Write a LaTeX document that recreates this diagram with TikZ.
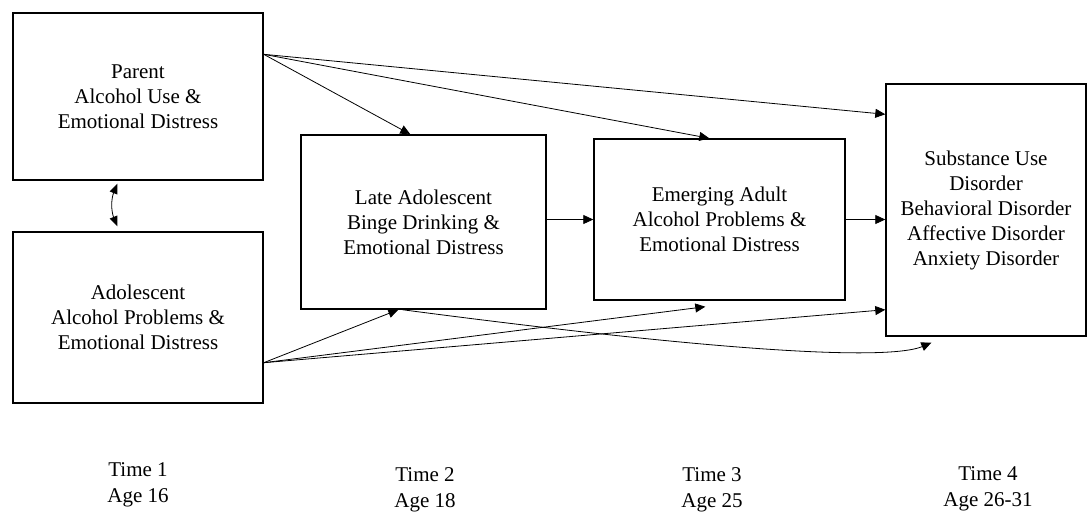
\documentclass[tikz,border=0pt]{standalone}
\usepackage{fontspec}
\setmainfont{Liberation Serif}
\usetikzlibrary{arrows.meta,calc}
\begin{document}
\begin{tikzpicture}[x=1pt,y=-1pt,
  box/.style={draw,line width=1.4pt,rectangle,inner sep=0pt,align=center,font=\fontsize{21}{25}\selectfont},
  arr/.style={line width=0.8pt,-{Triangle[length=10pt,width=9pt]}},
  darr/.style={line width=0.8pt,{Triangle[length=10pt,width=8pt]}-{Triangle[length=10pt,width=8pt]}},
  timelab/.style={align=center,font=\fontsize{21}{26}\selectfont}]
\useasboundingbox (0,0) rectangle (1087,517);
\node[box,minimum width=250pt,minimum height=167pt] (parent) at (138,96.5) {Parent\\Alcohol Use \&\\Emotional Distress};
\node[box,minimum width=250pt,minimum height=171pt] (adol) at (138,317.5) {Adolescent\\Alcohol Problems \&\\Emotional Distress};
\node[box,minimum width=245pt,minimum height=174pt] (late) at (423.5,222) {Late Adolescent\\Binge Drinking \&\\Emotional Distress};
\node[box,minimum width=251pt,minimum height=161pt] (em) at (719.5,219.5) {Emerging Adult\\Alcohol Problems \&\\Emotional Distress};
\node[box,minimum width=200pt,minimum height=252pt] (out) at (986,210) {Substance Use\\Disorder\\Behavioral Disorder\\Affective Disorder\\Anxiety Disorder};

\coordinate (ps) at ($(parent.north east)+(0,42)$);
\coordinate (as) at ($(adol.south east)+(0,-41)$);
\draw[arr] (ps) -- ($(late.north west)+(110,0)$);
\draw[arr] (ps) -- ($(em.north west)+(116,0)$);
\draw[arr] (ps) -- ($(out.north west)+(0,31)$);
\draw[arr] (late.east |- em.west) -- (em.west);
\draw[arr] (em.east) -- (out.west |- em.east);
\draw[arr] (as) -- ($(late.south west)+(98,0)$);
\draw[arr] (as) -- ($(em.south west)+(112,6)$);
\draw[arr] (as) -- ($(out.south west)+(0,-27)$);
\draw[arr] ($(late.south west)+(102,0)$) .. controls (800,362) and (900,356) .. ($(out.south west)+(46,6)$);
\draw[darr] ($(parent.south west)+(105,3)$) to[bend right=22] ($(adol.north west)+(105,-5)$);

\node[timelab] (t1) at (138,485) {Time 1\\Age 16};
\node[timelab] (t2) at (425,490) {Time 2\\Age 18};
\node[timelab] (t3) at (712,490) {Time 3\\Age 25};
\node[timelab] (t4) at (988,489) {Time 4\\Age 26-31};
\end{tikzpicture}
\end{document}
